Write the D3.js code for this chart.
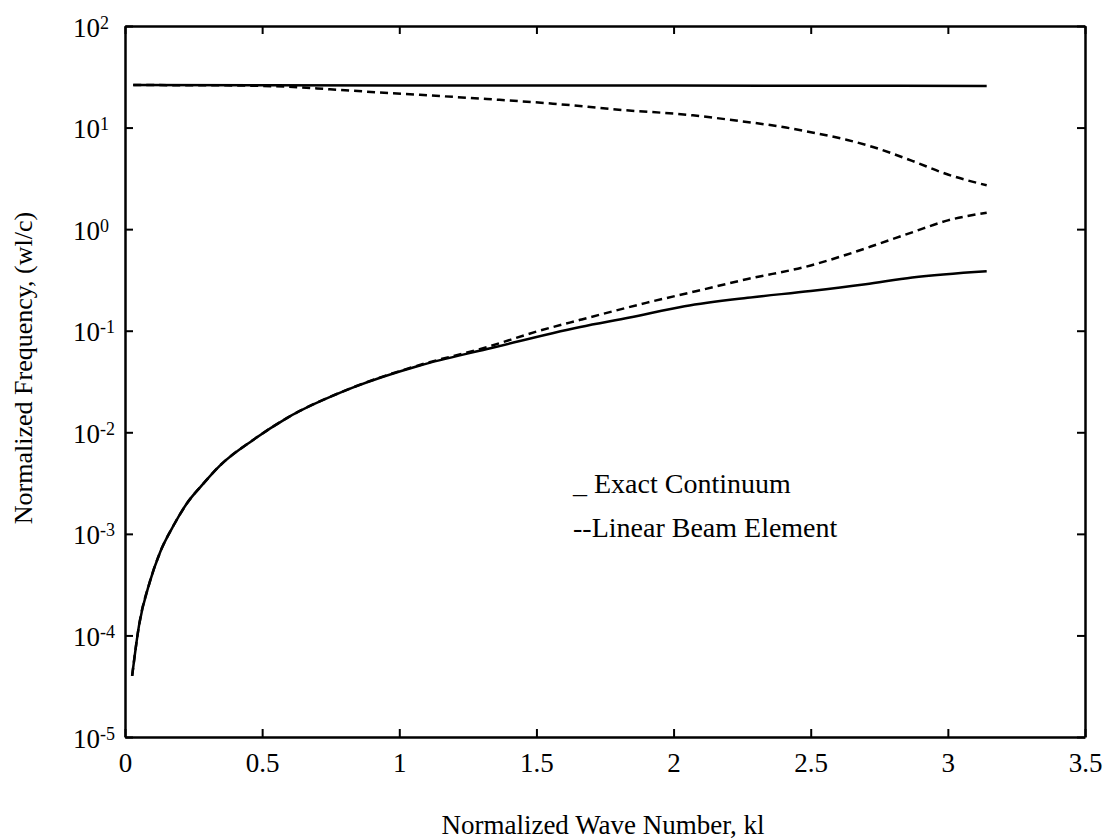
<!DOCTYPE html>
<html>
<head>
<meta charset="utf-8">
<script src="https://cdn.jsdelivr.net/npm/d3@7"></script>
<style>
  body { margin: 0; background: #fff; }
  svg text { font-family: "Liberation Serif", "DejaVu Serif", serif; fill: #000; }
</style>
</head>
<body>
<svg id="chart" width="1108" height="839"></svg>
<script>
// Axis ticks
const xTicks = [0, 0.5, 1, 1.5, 2, 2.5, 3, 3.5];
const yExponents = [-5, -4, -3, -2, -1, 0, 1, 2];

// Exact continuum, upper branch
const kExactUpper = [0.03, 0.5, 1.0, 1.5, 2.0, 2.5, 3.1416];
const fExactUpper = [26.2, 26.1, 26.0, 26.0, 25.9, 25.8, 25.7];

// Exact continuum, lower branch
const kExactLower = [0.026, 0.051, 0.091, 0.128, 0.18, 0.226, 0.28, 0.346, 0.467, 0.59, 0.83, 1.075, 1.32, 1.66, 1.84, 2.04, 2.27, 2.5, 2.7, 2.87, 3.1416];
const fExactLower = [4.0e-5, 1.25e-4, 3.4e-4, 6.6e-4, 1.25e-3, 2.0e-3, 3.0e-3, 4.7e-3, 8.4e-3, 0.0138, 0.0275, 0.0455, 0.066, 0.109, 0.135, 0.174, 0.211, 0.246, 0.287, 0.334, 0.385];

// Linear beam element, upper branch
const kBeamUpper = [0.03, 0.3, 0.55, 0.7, 0.78, 1.075, 1.32, 1.56, 1.8, 2.07, 2.22, 2.41, 2.51, 2.63, 2.73, 2.87, 3.0, 3.1416];
const fBeamUpper = [26.2, 26.1, 25.5, 24.3, 23.5, 21.0, 19.1, 17.2, 15.0, 13.2, 11.8, 10.0, 8.9, 7.6, 6.4, 4.7, 3.45, 2.7];

// Linear beam element, lower branch
const kBeamLower = [0.026, 0.051, 0.091, 0.128, 0.18, 0.226, 0.28, 0.346, 0.467, 0.59, 0.83, 1.075, 1.32, 1.5, 1.66, 1.9, 2.085, 2.27, 2.5, 2.63, 2.75, 2.87, 3.0, 3.1416];
const fBeamLower = [4.0e-5, 1.25e-4, 3.4e-4, 6.6e-4, 1.25e-3, 2.0e-3, 3.0e-3, 4.7e-3, 8.4e-3, 0.0138, 0.0276, 0.046, 0.069, 0.098, 0.128, 0.188, 0.246, 0.323, 0.439, 0.56, 0.72, 0.93, 1.22, 1.45];

const legendLines = ['_ Exact Continuum', '--Linear Beam Element'];

const width = 1108, height = 839;
const margin = { top: 26, right: 23, bottom: 102, left: 125 };
const innerW = width - margin.left - margin.right;
const innerH = height - margin.top - margin.bottom;

const svg = d3.select('#chart');
const g = svg.append('g').attr('transform', `translate(${margin.left},${margin.top})`);

const x = d3.scaleLinear().domain([0, 3.5]).range([0, innerW]);
const y = d3.scaleLog().domain([1e-5, 1e2]).range([innerH, 0]);
const yTickVals = yExponents.map(e => Math.pow(10, e));

// Axes, ticks pointing inward on all four sides
const styleAxis = sel => {
  sel.selectAll('.domain').attr('stroke', '#000').attr('stroke-width', 2.5);
  sel.selectAll('.tick line').attr('stroke', '#000').attr('stroke-width', 2);
};

g.append('g')
  .attr('transform', `translate(0,${innerH})`)
  .call(d3.axisBottom(x).tickValues(xTicks).tickFormat(d => String(d)).tickSizeInner(-8).tickSizeOuter(0))
  .call(styleAxis)
  .call(a => a.selectAll('text').attr('y', 35).attr('dy', 0).style('font-size', '27px'));

g.append('g')
  .call(d3.axisTop(x).tickValues(xTicks).tickFormat('').tickSizeInner(-8).tickSizeOuter(0))
  .call(styleAxis);

g.append('g')
  .attr('transform', `translate(${innerW},0)`)
  .call(d3.axisRight(y).tickValues(yTickVals).tickFormat('').tickSizeInner(-8).tickSizeOuter(0))
  .call(styleAxis);

const yAxis = g.append('g')
  .call(d3.axisLeft(y).tickValues(yTickVals).tickFormat('').tickSizeInner(-8).tickSizeOuter(0))
  .call(styleAxis);

// Power-of-ten labels with raised exponent
yAxis.selectAll('.tick').each(function (d) {
  const t = d3.select(this).append('text')
    .attr('x', -52)
    .attr('y', 10)
    .attr('text-anchor', 'start')
    .attr('fill', '#000')
    .style('font-size', '27px');
  t.append('tspan').text('10');
  t.append('tspan')
    .attr('dy', -8)
    .style('font-size', '18px')
    .text(String(Math.round(Math.log10(d))));
});

// Curves
const line = d3.line()
  .x(d => x(d[0]))
  .y(d => y(d[1]))
  .curve(d3.curveMonotoneX);

const series = [
  { k: kExactUpper, f: fExactUpper, dash: null },
  { k: kExactLower, f: fExactLower, dash: null },
  { k: kBeamUpper, f: fBeamUpper, dash: '8,5' },
  { k: kBeamLower, f: fBeamLower, dash: '8,5' }
];

g.append('g')
  .selectAll('path')
  .data(series)
  .join('path')
  .attr('fill', 'none')
  .attr('stroke', '#000')
  .attr('stroke-width', 2.5)
  .attr('stroke-dasharray', s => s.dash)
  .attr('d', s => line(d3.zip(s.k, s.f)));

// Legend (plain text, as in the original)
g.append('g')
  .selectAll('text')
  .data(legendLines)
  .join('text')
  .attr('x', 573 - margin.left)
  .attr('y', (d, i) => 493 - margin.top + i * 44)
  .style('font-size', '28px')
  .text(d => d);

// Axis titles
svg.append('text')
  .attr('x', margin.left + innerW / 2 - 2)
  .attr('y', 834)
  .attr('text-anchor', 'middle')
  .style('font-size', '27px')
  .text('Normalized Wave Number, kl');

svg.append('text')
  .attr('transform', 'translate(32,368) rotate(-90)')
  .attr('text-anchor', 'middle')
  .style('font-size', '26px')
  .text('Normalized Frequency, (wl/c)');
</script>
</body>
</html>
